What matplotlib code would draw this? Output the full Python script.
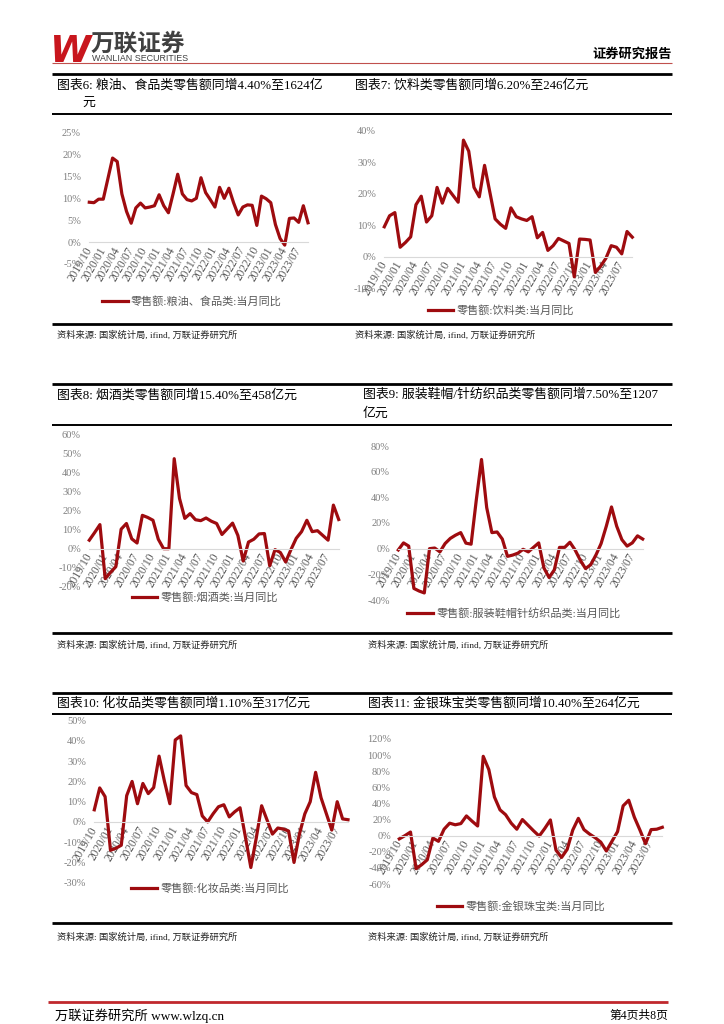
import matplotlib
matplotlib.use("Agg")
import matplotlib.pyplot as plt
import pandas as pd

plt.rcParams['font.family'] = ['Liberation Serif', 'Noto Sans CJK SC', 'DejaVu Sans']

W, H = 724, 1024
RED = '#9E0B0F'
GREY = '#7F7F7F'

# months 2019/10 .. 2023/09
months = [p.strftime('%Y/%m') for p in pd.period_range('2019-10', '2023-09', freq='M')]

grain = [9.1, 9.0, 9.8,
         9.8, 14.5, 19.2, 18.4, 11.0, 7.0, 4.3, 7.8, 8.9, 7.8, 8.0, 8.3,
         10.8, 8.3, 6.7, 11.0, 15.5, 11.0, 9.7, 9.4, 10.0, 14.7, 11.3, 9.7,
         8.0, 12.5, 10.0, 12.3, 9.0, 6.2, 8.0, 8.5, 8.4, 3.8, 10.5, 9.9,
         9.0, 4.0, 0.8, -0.7, 5.4, 5.5, 4.5, 8.3, 4.4]
beverage = [9.5, 13.0, 14.0,
            3.0, 4.5, 6.3, 16.5, 19.2, 11.0, 13.0, 22.0, 17.0, 21.7, 19.5, 17.3,
            37.0, 33.5, 22.0, 19.0, 29.0, 20.5, 12.0, 10.3, 9.0, 15.5, 12.7, 12.0,
            11.5, 12.7, 6.0, 7.7, 2.0, 3.5, 5.8, 5.0, 4.2, -6.4, 5.6, 5.5,
            5.3, -5.0, -3.0, -0.5, 3.5, 3.0, 0.9, 8.0, 6.2]
tobacco = [4.5, 8.5, 12.7,
           -15.8, -12.5, -9.5, 10.3, 13.3, 5.2, 3.0, 17.6, 16.5, 15.0, 5.0, 0.0,
           0.0, 47.5, 26.5, 16.0, 18.5, 15.3, 14.8, 16.2, 14.5, 13.3, 7.5, 10.5,
           13.5, 7.0, -6.5, 3.5, 5.0, 7.8, 8.0, -9.0, -0.5, -2.0, -7.0, -0.5,
           5.5, 9.0, 15.0, 9.0, 9.5, 7.0, 4.5, 23.0, 15.4]
apparel = [-1.0, 4.5, 2.0,
           -31.0, -33.0, -34.5, 0.0, 0.5, -2.5, 4.0, 8.0, 10.5, 12.5, 4.3, 3.5,
           38.0, 69.5, 32.0, 12.5, 13.0, 7.5, -6.0, -5.0, -3.5, -0.5, -2.5, 1.0,
           4.5, -15.0, -22.5, -16.5, 1.0, 1.0, 5.0, -1.0, -9.0, -15.5, -12.5, -5.0,
           4.0, 17.5, 32.5, 17.5, 7.0, 2.0, 4.5, 10.0, 7.5]
cosmetics = [6.0, 16.8, 12.5,
             -14.0, -13.0, -11.5, 13.0, 20.0, 9.0, 19.0, 14.0, 17.0, 32.5, 20.0, 9.0,
             40.5, 42.5, 18.0, 14.5, 13.5, 3.0, 0.0, 4.0, 7.5, 8.5, 2.5, 5.0,
             7.0, -7.5, -22.5, -8.0, 8.0, 1.0, -6.0, -3.0, -3.5, -4.5, -20.0, -6.0,
             4.0, 10.0, 24.5, 12.0, 4.0, -4.0, 10.0, 1.5, 1.1]
jewelry = [-4.0, 0.0, 4.5,
           -41.0, -36.0, -30.0, -3.0, -7.0, 8.0, 15.5, 13.5, 15.0, 24.5, 18.0, 12.0,
           98.5, 82.0, 48.0, 32.0, 26.0, 15.5, 8.0, 20.0, 13.0, 6.0, -0.5, 9.0,
           19.5, -18.0, -27.0, -17.0, 7.0, 21.5, 7.5, 2.0, -2.5, -8.0, -19.0, -7.0,
           5.0, 37.0, 44.0, 23.0, 7.0, -10.0, 7.5, 8.0, 10.4]

fig = plt.figure(figsize=(W / 100, H / 100), dpi=100)
fig.patch.set_facecolor('white')

# page layer in pixel coordinates
page = fig.add_axes([0, 0, 1, 1], zorder=0)
page.set_xlim(0, W)
page.set_ylim(H, 0)
page.axis('off')


def hline(y, lw, color='black', x0=52, x1=672):
    page.plot([x0, x1], [y, y], color=color, lw=lw, solid_capstyle='butt')


# header
page.text(50, 62, 'W', fontsize=27, fontweight='bold', style='italic',
          family='DejaVu Sans', color='#C8161D', va='baseline')
page.text(91, 44, '万联证券', fontsize=17, fontweight='bold', family='Noto Sans CJK SC',
          color='#404040', va='center')
page.text(92, 58.5, 'WANLIAN SECURITIES', fontsize=6.4, family='Liberation Sans',
          color='#404040', va='center')
page.text(672, 55, '证券研究报告', fontsize=9.5, fontweight='bold', ha='right', va='center')
hline(62.5, 0.8, color='#C0504D')

# section rules
for y in (74, 384, 693):
    hline(y, 2.0)
for y in (114, 425, 714):
    hline(y, 1.4)
for y in (324, 633, 923):
    hline(y, 2.0)

# titles
title_kw = dict(fontsize=9.3, va='center', color='black')
page.text(57, 86, '图表6: 粮油、食品类零售额同增4.40%至1624亿', **title_kw)
page.text(82, 104, '元', **title_kw)
page.text(355, 86, '图表7: 饮料类零售额同增6.20%至246亿元', **title_kw)
page.text(57, 395, '图表8: 烟酒类零售额同增15.40%至458亿元', **title_kw)
page.text(363, 395, '图表9: 服装鞋帽/针纺织品类零售额同增7.50%至1207', **title_kw)
page.text(363, 414, '亿元', **title_kw)
page.text(57, 703, '图表10: 化妆品类零售额同增1.10%至317亿元', **title_kw)
page.text(368, 703, '图表11: 金银珠宝类零售额同增10.40%至264亿元', **title_kw)

source = '资料来源: 国家统计局, ifind, 万联证券研究所'
src_kw = dict(fontsize=6.7, va='center', color='#222222')
for x, y in [(57, 335), (355, 335), (57, 645), (368, 645), (57, 937), (368, 937)]:
    page.text(x, y, source, **src_kw)

# footer
hline(1002, 2.0, color='#C0282D', x0=48, x1=668)
page.text(55, 1016, '万联证券研究所 www.wlzq.cn', fontsize=9.5, va='center')
page.text(668, 1016, '第4页共8页', fontsize=8.5, va='center', ha='right')


def draw_chart(x0, x1, ytop, ybot, values, yticks, label, legend_xy):
    ax = fig.add_axes([x0 / W, 1 - ybot / H, (x1 - x0) / W, (ybot - ytop) / H], zorder=2)
    ax.patch.set_visible(False)
    xs = list(range(len(values)))
    line, = ax.plot(xs, values, color=RED, lw=2.3, clip_on=False)
    ax.set_xlim(0, len(values) - 1)
    ax.set_ylim(yticks[0], yticks[-1])
    for s in ('left', 'right', 'top'):
        ax.spines[s].set_visible(False)
    ax.spines['bottom'].set_position(('data', 0))
    ax.spines['bottom'].set_color('#D9D9D9')
    ax.spines['bottom'].set_linewidth(0.8)
    ax.set_xticks(xs[::3])
    ax.set_xticklabels(months[::3], rotation=60, ha='right', va='center',
                       rotation_mode='anchor', fontsize=8.3, color='#595959')
    ax.set_yticks(yticks)
    ax.set_yticklabels([f'{v}%' for v in yticks], fontsize=7.5, color=GREY)
    ax.tick_params(axis='x', length=0, pad=4)
    ax.tick_params(axis='y', length=0, pad=6)
    ax.legend([line], [label], loc='center',
              bbox_to_anchor=(legend_xy[0] / W, 1 - legend_xy[1] / H),
              bbox_transform=fig.transFigure, frameon=False, fontsize=8,
              handlelength=2.3, handletextpad=0.3, labelcolor='#595959',
              borderpad=0)
    return ax


draw_chart(89.3, 308, 132.7, 263.9, grain, [-5, 0, 5, 10, 15, 20, 25],
           '零售额:粮油、食品类:当月同比', (192, 301))
draw_chart(384.3, 632.3, 130.7, 288.2, beverage, [-10, 0, 10, 20, 30, 40],
           '零售额:饮料类:当月同比', (501, 310))
draw_chart(89.3, 338.7, 435, 586.6, tobacco, [-20, -10, 0, 10, 20, 30, 40, 50, 60],
           '零售额:烟酒类:当月同比', (205, 597))
draw_chart(398.3, 642.7, 446, 600, apparel, [-40, -20, 0, 20, 40, 60, 80],
           '零售额:服装鞋帽针纺织品类:当月同比', (514, 613))
draw_chart(94.3, 348, 720.7, 882.7, cosmetics, [-30, -20, -10, 0, 10, 20, 30, 40, 50],
           '零售额:化妆品类:当月同比', (210, 888))
draw_chart(399.3, 662.3, 739, 884, jewelry, [-60, -40, -20, 0, 20, 40, 60, 80, 100, 120],
           '零售额:金银珠宝类:当月同比', (521, 906))

fig.savefig('out.png', dpi=100, facecolor='white')
